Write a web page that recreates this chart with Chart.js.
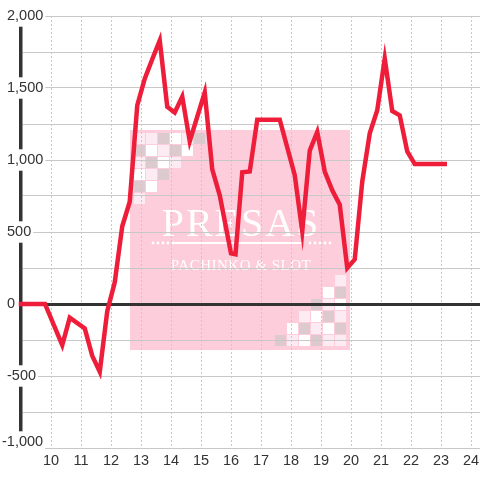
<!DOCTYPE html>
<html>
<head>
<meta charset="utf-8">
<script src="https://cdn.jsdelivr.net/npm/chart.js@4/dist/chart.umd.min.js"></script>
<style>
  html, body { margin: 0; padding: 0; background: #fff; }
  #chart { display: block; }
</style>
</head>
<body>
<canvas id="chart" width="480" height="480"></canvas>
<script>
// hour of day -> running balance
const hours = [9, 9.8, 10.375, 10.625, 11.125, 11.375, 11.625, 11.875, 12.125, 12.375, 12.625,
  12.875, 13.125, 13.375, 13.625, 13.875, 14.125, 14.375, 14.625, 15.125, 15.375, 15.625,
  16.0, 16.15, 16.375, 16.625, 16.875, 17.625, 18.125, 18.375, 18.625, 18.875, 19.125,
  19.375, 19.625, 19.875, 20.125, 20.375, 20.625, 20.875, 21.125, 21.375, 21.625, 21.875,
  22.125, 23.125];
const balance = [0, 0, -285, -95, -170, -360, -470, -50, 150, 540, 710,
  1380, 1565, 1700, 1830, 1370, 1330, 1440, 1130, 1470, 935, 755,
  352, 345, 915, 920, 1280, 1280, 895, 505, 1065, 1195, 920,
  790, 690, 250, 310, 850, 1185, 1345, 1705, 1340, 1310, 1060,
  972, 972];

const xTicks = [9, 10, 11, 12, 13, 14, 15, 16, 17, 18, 19, 20, 21, 22, 23, 24];
const yTicks = [-1000, -750, -500, -250, 0, 250, 500, 750, 1000, 1250, 1500, 1750, 2000];
const yLabelled = [-1000, -500, 0, 500, 1000, 1500, 2000];

// checker pattern of the logo corner (W white, P pale, G grey)
const checkRows = ['PPGWPG', 'GWPGW', 'PGWP', 'WPG', 'GW', 'P'];

const fmt = v => v.toString().replace(/\B(?=(\d{3})+(?!\d))/g, ',');

// background logo behind the grid
const logoPlugin = {
  id: 'logo',
  beforeDraw(chart) {
    const ctx = chart.ctx;
    const cx = chart.width / 2, cy = chart.height / 2;
    const size = 220, x0 = cx - size / 2, y0 = cy - size / 2;
    ctx.save();
    ctx.fillStyle = '#fff';
    ctx.fillRect(0, 0, chart.width, chart.height);
    ctx.fillStyle = '#fdcddb';
    ctx.fillRect(x0, y0, size, size);

    const colors = { W: '#ffffff', P: '#fdebf3', G: '#dccacf' };
    const step = 12, sq = 11;
    checkRows.forEach((row, r) => {
      row.split('').forEach((c, k) => {
        ctx.fillStyle = colors[c];
        ctx.fillRect(x0 + 4 + k * step, y0 + 3 + r * step, sq, sq);
        ctx.fillRect(x0 + size - 4 - sq - k * step, y0 + size - 4 - sq - r * step, sq, sq);
      });
    });

    ctx.fillStyle = '#fff';
    ctx.textAlign = 'center';
    ctx.textBaseline = 'alphabetic';
    ctx.font = '40px "Liberation Serif", "DejaVu Serif", serif';
    ctx.letterSpacing = '2px';
    ctx.fillText('PRESAS', cx + 1, cy - 4);
    ctx.fillRect(cx - 67, cy + 2, 130, 2);
    for (let i = 0; i < 5; i++) {
      ctx.beginPath();
      ctx.arc(cx - 87 + i * 5, cy + 3, 1.4, 0, Math.PI * 2);
      ctx.arc(cx + 70 + i * 5, cy + 3, 1.4, 0, Math.PI * 2);
      ctx.fill();
    }
    ctx.font = '15px "Liberation Serif", "DejaVu Serif", serif';
    ctx.letterSpacing = '0.5px';
    ctx.fillText('PACHINKO & SLOT', cx + 1, cy + 30);
    ctx.restore();
  }
};

const tickFont = { family: '"Liberation Sans", Arial, sans-serif', size: 14.5 };
const lowest = yTicks[0];

new Chart(document.getElementById('chart').getContext('2d'), {
  type: 'line',
  data: {
    datasets: [{
      data: hours.map((h, i) => ({ x: h, y: balance[i] })),
      borderColor: '#ee1e3a',
      borderWidth: 4.5,
      borderCapStyle: 'square',
      pointRadius: 0,
      tension: 0,
      fill: false,
      clip: 6
    }]
  },
  options: {
    responsive: false,
    animation: false,
    layout: { padding: { top: 16, left: 7, right: 0, bottom: 0 } },
    plugins: { legend: { display: false }, tooltip: { enabled: false } },
    scales: {
      x: {
        type: 'linear',
        min: 9,
        max: 24.3,
        afterBuildTicks: s => { s.ticks = xTicks.map(v => ({ value: v })); },
        afterFit: s => { s.height = 32; s.paddingLeft = 0; s.paddingRight = 0; },
        ticks: {
          callback: v => v === 9 ? '' : String(v),
          color: '#333',
          font: tickFont,
          padding: 4,
          maxRotation: 0,
          autoSkip: false
        },
        grid: { color: '#c8c8c8', lineWidth: 1, drawTicks: false, z: -2 },
        border: { display: false, dash: [2, 2] }
      },
      y: {
        min: -1000,
        max: 2000,
        afterBuildTicks: s => { s.ticks = yTicks.map(v => ({ value: v })); },
        afterFit: s => { s.width = 14; s.paddingTop = 0; s.paddingBottom = 0; },
        ticks: {
          // the bottom label is drawn by yLow instead
          callback: v => yLabelled.includes(v) && v !== lowest ? fmt(v) : '',
          color: '#333',
          font: tickFont,
          // mirrored so the labels are not clipped, pulled back left over the axis
          mirror: true,
          padding: -14,
          showLabelBackdrop: true,
          backdropColor: c => yLabelled.includes(c.tick.value) && c.tick.value !== lowest ? '#fff' : 'rgba(0,0,0,0)',
          backdropPadding: 2
        },
        grid: {
          color: c => c.tick && c.tick.value === 0 ? '#333' : '#c8c8c8',
          lineWidth: c => c.tick && c.tick.value === 0 ? 3 : 1,
          drawTicks: false,
          z: -1
        },
        border: { display: true, color: '#333', width: 3.5 }
      },
      // only the -1,000 label, nudged up so it clears the x labels
      yLow: {
        position: 'left',
        min: -1000,
        max: 2000,
        afterBuildTicks: s => { s.ticks = [{ value: lowest }]; },
        afterFit: s => { s.width = 0; s.paddingTop = 0; s.paddingBottom = 0; },
        ticks: {
          callback: v => fmt(v),
          color: '#333',
          font: tickFont,
          mirror: true,
          padding: -5,
          labelOffset: -6,
          showLabelBackdrop: true,
          backdropColor: '#fff',
          backdropPadding: 2
        },
        grid: { display: false },
        border: { display: false }
      }
    }
  },
  plugins: [logoPlugin]
});
</script>
</body>
</html>
